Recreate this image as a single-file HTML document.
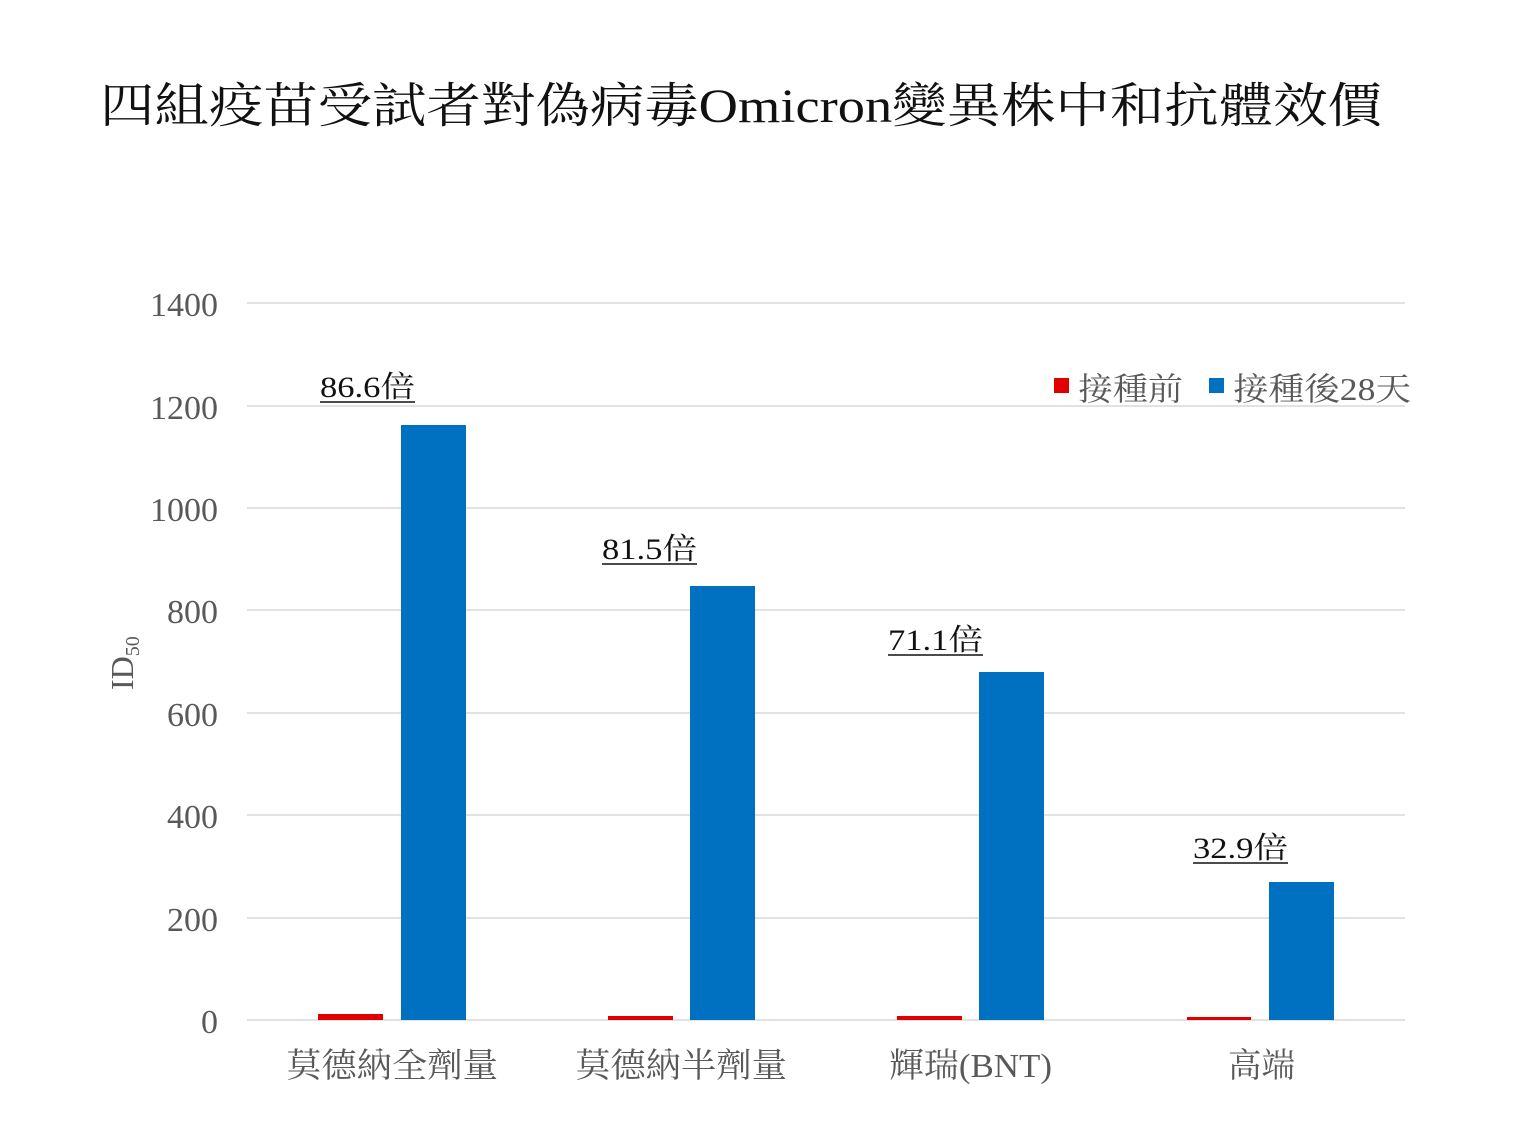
<!DOCTYPE html>
<html><head><meta charset="utf-8"><style>
body{margin:0;background:#fff;}
svg text{font-family:"Liberation Serif","Noto Serif CJK TC","Noto Serif CJK SC",serif;}
</style></head><body>
<svg width="1536" height="1132" xmlns="http://www.w3.org/2000/svg">
<rect width="1536" height="1132" fill="#fff"/>
<text x="100" y="122" font-size="48" fill="#111" textLength="1282" lengthAdjust="spacingAndGlyphs">四組疫苗受試者對偽病毒Omicron變異株中和抗體效價</text>
<g stroke="#d9d9d9" stroke-width="1.5">
<line x1="247" x2="1405" y1="303" y2="303"/>
<line x1="247" x2="1405" y1="406" y2="406"/>
<line x1="247" x2="1405" y1="508" y2="508"/>
<line x1="247" x2="1405" y1="610" y2="610"/>
<line x1="247" x2="1405" y1="713" y2="713"/>
<line x1="247" x2="1405" y1="815" y2="815"/>
<line x1="247" x2="1405" y1="918" y2="918"/>
<line x1="247" x2="1405" y1="1020" y2="1020"/>
</g>
<g font-size="34" fill="#595959" text-anchor="end">
<text x="218" y="316">1400</text>
<text x="218" y="419">1200</text>
<text x="218" y="521">1000</text>
<text x="218" y="623">800</text>
<text x="218" y="726">600</text>
<text x="218" y="828">400</text>
<text x="218" y="931">200</text>
<text x="218" y="1033">0</text>
</g>
<text transform="translate(133,690) rotate(-90)" font-size="32" fill="#595959">ID<tspan font-size="20" dy="6">50</tspan></text>
<g fill="#e00000">
<rect x="318" y="1014" width="65" height="6"/>
<rect x="608" y="1016" width="65" height="4"/>
<rect x="897" y="1016" width="65" height="4"/>
<rect x="1187" y="1017" width="64" height="3"/>
</g>
<g fill="#0070c0">
<rect x="401" y="425" width="65" height="595"/>
<rect x="690" y="586" width="65" height="434"/>
<rect x="979" y="672" width="65" height="348"/>
<rect x="1269" y="882" width="65" height="138"/>
</g>
<g font-size="30" fill="#111">
<text x="320" y="397" textLength="95" lengthAdjust="spacingAndGlyphs">86.6倍</text>
<text x="602" y="559" textLength="95" lengthAdjust="spacingAndGlyphs">81.5倍</text>
<text x="888" y="650" textLength="95" lengthAdjust="spacingAndGlyphs">71.1倍</text>
<text x="1193" y="858" textLength="95" lengthAdjust="spacingAndGlyphs">32.9倍</text>
</g>
<g stroke="#111" stroke-width="1.5">
<line x1="320" x2="415" y1="402" y2="402"/>
<line x1="602" x2="697" y1="564" y2="564"/>
<line x1="888" x2="983" y1="655" y2="655"/>
<line x1="1193" x2="1288" y1="863" y2="863"/>
</g>
<rect x="1054" y="378" width="15" height="15" fill="#e00000"/>
<text x="1078" y="400" font-size="32" fill="#595959" textLength="105" lengthAdjust="spacingAndGlyphs">接種前</text>
<rect x="1209" y="378" width="15" height="15" fill="#0070c0"/>
<text x="1233" y="400" font-size="32" fill="#595959" textLength="178" lengthAdjust="spacingAndGlyphs">接種後28天</text>
<g font-size="34" fill="#595959">
<text x="286" y="1077" textLength="212" lengthAdjust="spacingAndGlyphs">莫德納全劑量</text>
<text x="575" y="1077" textLength="212" lengthAdjust="spacingAndGlyphs">莫德納半劑量</text>
<text x="889" y="1077" textLength="163" lengthAdjust="spacingAndGlyphs">輝瑞(BNT)</text>
<text x="1228" y="1077" textLength="67" lengthAdjust="spacingAndGlyphs">高端</text>
</g>
</svg>
</body></html>
